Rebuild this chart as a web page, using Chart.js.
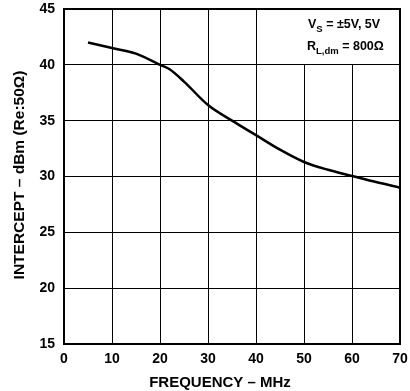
<!DOCTYPE html>
<html>
<head>
<meta charset="utf-8">
<script src="https://cdn.jsdelivr.net/npm/chart.js@4/dist/chart.umd.min.js"></script>
<style>
html,body{margin:0;padding:0;background:#fff;}
#wrap{width:410px;height:391px;position:relative;}
</style>
</head>
<body>
<div id="wrap"><canvas id="c" width="410" height="391"></canvas></div>
<script>
// Data
const frequencyMHz = [5, 10, 15, 20, 22, 25, 30, 35, 40, 45, 50, 55, 60, 65, 70];
const interceptDBm = [42, 41.5, 41, 40, 39.6, 38.5, 36.4, 35.0, 33.7, 32.4, 31.3, 30.6, 30.05, 29.5, 29];
const xTicks = [0, 10, 20, 30, 40, 50, 60, 70];
const yTicks = [15, 20, 25, 30, 35, 40, 45];
const xTitle = 'FREQUENCY – MHz';
const yTitle = 'INTERCEPT – dBm (Re:50Ω)';
const noteLine1 = ['V', 'S', ' = ±5V, 5V'];
const noteLine2 = ['R', 'L,dm', ' = 800Ω'];
const noteBox = {x0: 40, x1: 70, y0: 40, y1: 45};

const FONT = '"Liberation Sans", Arial, Helvetica, sans-serif';

const notePlugin = {
  id: 'note',
  afterDraw(chart) {
    const {ctx, chartArea: a, scales: {x, y}} = chart;
    const L = x.getPixelForValue(noteBox.x0), R = x.getPixelForValue(noteBox.x1);
    const T = y.getPixelForValue(noteBox.y1), B = y.getPixelForValue(noteBox.y0);
    const Li = Math.round(L - 0.5), Bi = Math.round(B - 0.5);
    ctx.save();
    // note box: white panel over the grid, edged by the 40 gridlines
    ctx.fillStyle = '#fff';
    ctx.fillRect(Li + 1, T, R - Li - 1, Bi - T);
    ctx.fillStyle = '#000';
    ctx.fillRect(Li, T, 1, Bi - T + 1);
    ctx.fillRect(Li, Bi, R - Li, 1);
    ctx.textBaseline = 'alphabetic';
    ctx.textAlign = 'left';
    const drawLine = (parts, xs, yb) => {
      ctx.font = 'bold 12.5px ' + FONT;
      ctx.fillText(parts[0], xs, yb);
      let cx = xs + ctx.measureText(parts[0]).width;
      ctx.font = 'bold 9.5px ' + FONT;
      ctx.fillText(parts[1], cx, yb + 4);
      cx += ctx.measureText(parts[1]).width;
      ctx.font = 'bold 12.5px ' + FONT;
      ctx.fillText(parts[2], cx, yb);
    };
    drawLine(noteLine1, 308, 28);
    drawLine(noteLine2, 307, 50);
    // axis titles
    ctx.textBaseline = 'middle';
    ctx.textAlign = 'center';
    ctx.font = 'bold 15px ' + FONT;
    ctx.fillText(xTitle, 220, 383);
    ctx.save();
    ctx.translate(20, 175);
    ctx.rotate(-Math.PI / 2);
    ctx.font = 'bold 15.5px ' + FONT;
    ctx.fillText(yTitle, 0, 0);
    ctx.restore();
    // plot frame
    ctx.strokeStyle = '#000';
    ctx.lineWidth = 2;
    ctx.strokeRect(a.left, a.top, a.right - a.left, a.bottom - a.top);
    ctx.restore();
  }
};

new Chart(document.getElementById('c'), {
  type: 'line',
  data: {
    datasets: [{
      data: frequencyMHz.map((f, i) => ({x: f, y: interceptDBm[i]})),
      borderColor: '#000',
      borderWidth: 2.5,
      pointRadius: 0,
      fill: false,
      cubicInterpolationMode: 'monotone'
    }]
  },
  options: {
    responsive: false,
    animation: false,
    devicePixelRatio: 1,
    layout: {padding: {top: 9, right: 10, left: 0, bottom: 0}},
    plugins: {legend: {display: false}, tooltip: {enabled: false}},
    scales: {
      x: {
        type: 'linear', min: 0, max: 70,
        afterBuildTicks: s => { s.ticks = xTicks.map(v => ({value: v})); },
        afterFit: s => { s.height = 47; s.paddingLeft = 0; s.paddingRight = 0; },
        grid: {color: '#000', lineWidth: 1, drawTicks: false},
        border: {color: '#000', width: 2},
        ticks: {color: '#000', padding: 7, maxRotation: 0, font: {family: FONT, size: 14, weight: 'bold'}},
        title: {display: false, text: xTitle}
      },
      y: {
        type: 'linear', min: 15, max: 45,
        afterBuildTicks: s => { s.ticks = yTicks.map(v => ({value: v})); },
        afterFit: s => { s.width = 64; s.paddingTop = 0; s.paddingBottom = 0; },
        grid: {color: '#000', lineWidth: 1, drawTicks: false},
        border: {color: '#000', width: 2},
        ticks: {color: '#000', padding: 9, font: {family: FONT, size: 14, weight: 'bold'}},
        title: {display: false, text: yTitle}
      }
    }
  },
  plugins: [notePlugin]
});
</script>
</body>
</html>
